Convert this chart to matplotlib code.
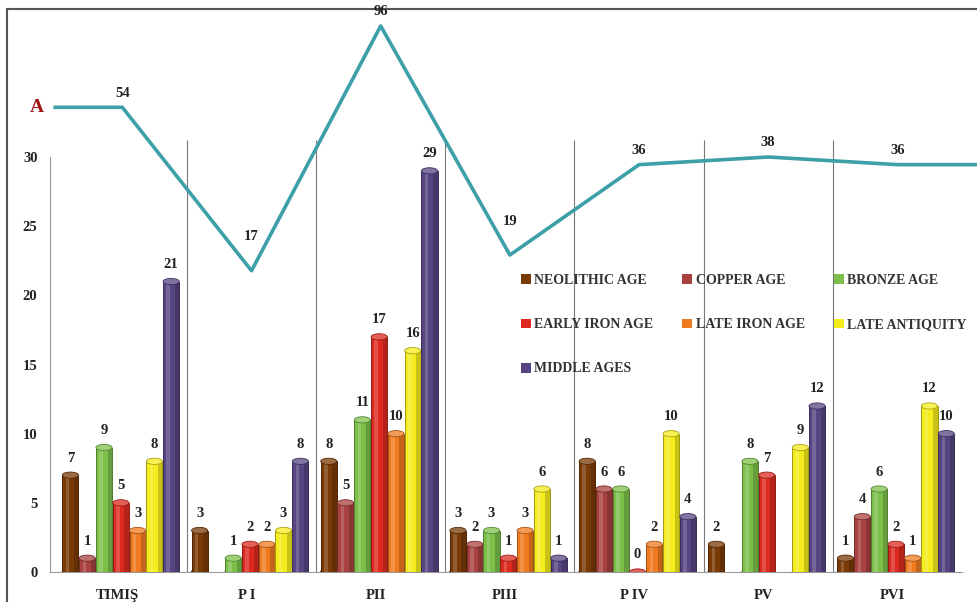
import numpy as np
import matplotlib
matplotlib.use("Agg")
import matplotlib.pyplot as plt
from matplotlib.patches import Ellipse, Patch, Rectangle
from matplotlib.colors import to_rgb

plt.rcParams['font.family'] = ['Liberation Serif', 'DejaVu Serif']

# data
categories = ['TIMIŞ', 'P I', 'PII', 'PIII', 'P IV', 'PV', 'PVI']
series_names = ['NEOLITHIC AGE', 'COPPER AGE', 'BRONZE AGE', 'EARLY IRON AGE',
                'LATE IRON AGE', 'LATE ANTIQUITY', 'MIDDLE AGES']
nan = np.nan
neolithic = [7, 3, 8, 3, 8, 2, 1]
copper = [1, nan, 5, 2, 6, nan, 4]
bronze = [9, 1, 11, 3, 6, 8, 6]
early_iron = [5, 2, 17, 1, 0, 7, 2]
late_iron = [3, 2, 10, 3, 2, nan, 1]
late_antiquity = [8, 3, 16, 6, 10, 9, 12]
middle_ages = [21, 8, 29, 1, 4, 12, 10]
total_a = [54, 17, 96, 19, 36, 38, 36]

series_vals = [neolithic, copper, bronze, early_iron, late_iron, late_antiquity, middle_ages]
colors = ['#7a3a06', '#a8413f', '#7cc04a', '#dc2a20', '#f07a20', '#f4ec1c', '#574583']
line_color = '#3d9fa8'

W, H = 978, 602
fig = plt.figure(figsize=(W / 100, H / 100), dpi=100)

# outer frame (behind everything)
fig.add_artist(Rectangle((7 / W, -0.1), 2, 1.1 - 9 / H, transform=fig.transFigure,
                         fill=False, edgecolor='#555555', linewidth=1.5, zorder=-5))

ax = fig.add_axes([50 / W, 30 / H, 912 / W, 415 / H])
ax.patch.set_visible(False)
ax.set_xlim(-0.56, 6.5)
ax.set_ylim(0, 30)

x = np.arange(len(categories))
pitch = 0.13
bw = 0.125
top_h = 0.45  # height of the cylinder cap in data units


def shade(c, f):
    r, g, b = to_rgb(c)
    if f < 0:
        return (r * (1 + f), g * (1 + f), b * (1 + f))
    return (r + (1 - r) * f, g + (1 - g) * f, b + (1 - b) * f)


for i, (vals, col) in enumerate(zip(series_vals, colors)):
    off = (i - 3) * pitch - 0.012
    for xi, v in zip(x, vals):
        if np.isnan(v):
            continue
        cx = xi + off
        if v > 0:
            ax.bar(cx, v, width=bw, color=col, edgecolor=shade(col, -0.35), linewidth=0.7, zorder=3)
            # cylinder shading
            ax.bar(cx - bw * 0.18, v, width=bw * 0.22, color='white', alpha=0.18, linewidth=0, zorder=3.1)
            ax.bar(cx + bw * 0.36, v, width=bw * 0.28, color='black', alpha=0.18, linewidth=0, zorder=3.1)
            ax.add_patch(Ellipse((cx, 0), bw, top_h, color=shade(col, -0.2), zorder=2.9))
        ax.add_patch(Ellipse((cx, v), bw, top_h, facecolor=shade(col, 0.25),
                             edgecolor=shade(col, -0.3), linewidth=0.6, zorder=3.2))
        ax.annotate(f'{int(v)}', (cx, v), xytext=(0, 17), textcoords='offset pixels',
                    ha='center', va='center', fontsize=10.5, fontweight='bold', color='#222222',
                    zorder=5)

# group separators
ax.vlines(x[:-1] + 0.5, 0, 31.2, colors='#777777', linewidth=0.8, zorder=1, clip_on=False)

for s in ['top', 'right']:
    ax.spines[s].set_visible(False)
ax.spines['left'].set_bounds(0, 30)
ax.spines['left'].set_color('#999999')
ax.spines['bottom'].set_color('#999999')
ax.set_yticks(range(0, 31, 5))
ax.set_xticks(x - 0.04)
ax.set_xticklabels(categories)
ax.tick_params(axis='both', length=0, labelsize=10.5, labelcolor='#222222')
ax.tick_params(axis='y', pad=9)
ax.tick_params(axis='x', pad=12)
for lab in ax.get_xticklabels() + ax.get_yticklabels():
    lab.set_fontweight('bold')

# line A on its own (log) scale
ax2 = ax.twinx()
ax2.set_yscale('log')
ax2.set_ylim(2.02, 38.0)
ax2.axis('off')
lx = np.concatenate([[-0.52], x, [6.62]])
ly = np.concatenate([[total_a[0]], total_a, [total_a[-1]]])
ax2.plot(lx, ly, color=line_color, linewidth=2.6, clip_on=False, zorder=4)
for i, v in enumerate(total_a):
    valley = 0 < i < len(total_a) - 1 and v < total_a[i - 1] and v < total_a[i + 1]
    ax2.annotate(str(v), (x[i], v), xytext=(0, 34 if valley else 14), textcoords='offset pixels',
                 ha='center', va='center', fontsize=10.5, fontweight='bold', color='#222222',
                 annotation_clip=False)
ax2.annotate('A', (-0.52, total_a[0]), xytext=(-18, 0), textcoords='offset pixels',
             ha='center', va='center', fontsize=14, fontweight='bold', color='#a01414',
             annotation_clip=False)

# legend in row order
handles = [Patch(facecolor=c, edgecolor='none') for c in colors]
order = [0, 3, 6, 1, 4, 2, 5]
ax.legend([handles[k] for k in order], [series_names[k] for k in order], ncol=3,
          loc='upper left', bbox_to_anchor=(521 / W, 1 - 274 / H), bbox_transform=fig.transFigure,
          frameon=False, prop={'size': 10, 'weight': 'bold'}, handlelength=0.7, handleheight=0.7,
          handletextpad=0.25, labelspacing=2.25, columnspacing=2.1, borderpad=0, borderaxespad=0,
          labelcolor='#333333')

fig.savefig('out.png', dpi=100)
